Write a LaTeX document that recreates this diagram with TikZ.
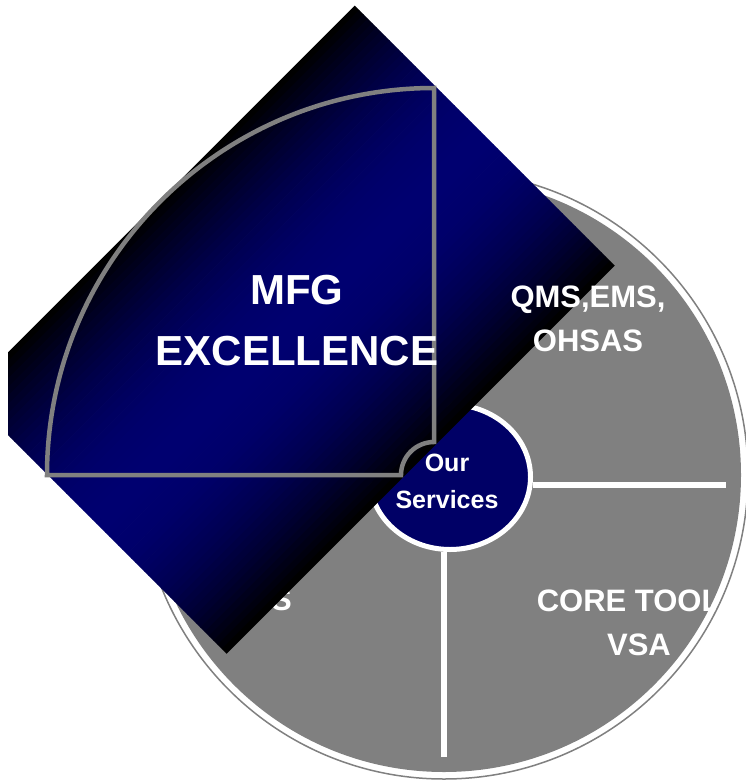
\documentclass[tikz,border=0pt]{standalone}
\usepackage{fontspec}
\setmainfont{Liberation Sans}
\usepackage{tikz}
\usetikzlibrary{positioning,calc,shapes.geometric}
\definecolor{panelnavy}{RGB}{0,0,112}
\definecolor{hubnavy}{RGB}{0,0,102}
\definecolor{rimgray}{RGB}{128,128,128}

\begin{document}
\begin{tikzpicture}[x=1pt,y=-1pt,
    spoke/.style={white, line width=6pt},
    quadtext/.style={white, font=\bfseries\fontsize{31}{44}\selectfont, align=center, inner sep=0pt},
    hubtext/.style={white, font=\bfseries\fontsize{25}{37}\selectfont, align=center, inner sep=0pt},
    bigtext/.style={white, font=\bfseries\fontsize{42}{61}\selectfont, align=center, inner sep=0pt}]
    \useasboundingbox (0,0) rectangle (746,781);
    % Draw disk
    \coordinate (disk) at (444,475);
    \draw[rimgray, line width=1.5pt, fill=white] (disk) circle (304);
    \fill[rimgray] (disk) circle (297);
    \coordinate (rimE) at (726,485);
    \coordinate (rimS) at (444,757);
    % Draw hub
    \node[ellipse, draw=white, line width=5pt, fill=hubnavy, minimum width=161, minimum height=145, inner sep=0pt] (hub) at (450,477) {};
    \draw[spoke] (rimE) -- (rimE -| hub.east);
    \draw[spoke] (rimS) -- (rimS |- hub.south);
    % Draw quadrant texts
    \begin{scope}
        \clip (disk) circle (297);
        \node[quadtext, anchor=base east] (lowleft) at (292,610) {S};
        \node[quadtext, anchor=base] (core) at (639,655) {CORE TOOL\phantom{S}\\VSA};
    \end{scope}
    % Draw panel (black - navy - black across its width)
    \begin{scope}
        \clip (8,0) rectangle (746,781);
        \begin{scope}[shift={(290.5,329.5)}, rotate=45]
            \foreach \i in {0,...,59} {
                \pgfmathsetmacro\mix{100*(1-((\i-29.5)/29.5)^2)}
                \fill[panelnavy!\mix!black] (-274.5,{-183.5+\i*6.117}) rectangle (274.5,{-183.5+(\i+1)*6.117+0.6});
            }
        \end{scope}
    \end{scope}
    % Draw sector
    \coordinate (hinge) at (434,475);
    \draw[rimgray, line width=4.5pt] ($(hinge)+(0,-387)$) -- ($(hinge)+(0,-33)$)
        arc[start angle=270, end angle=180, radius=33] -- ($(hinge)+(-387,0)$)
        arc[start angle=180, end angle=270, radius=387] -- cycle;
    % Draw labels
    \node[quadtext, anchor=base] (qms) at (588,351) {QMS,EMS,\\OHSAS};
    \node[hubtext, anchor=base] (services) at (447,508) {Our\\Services};
    \node[bigtext, anchor=base] (mfg) at (297,365) {MFG\\EXCELLENCE};
\end{tikzpicture}
\end{document}
